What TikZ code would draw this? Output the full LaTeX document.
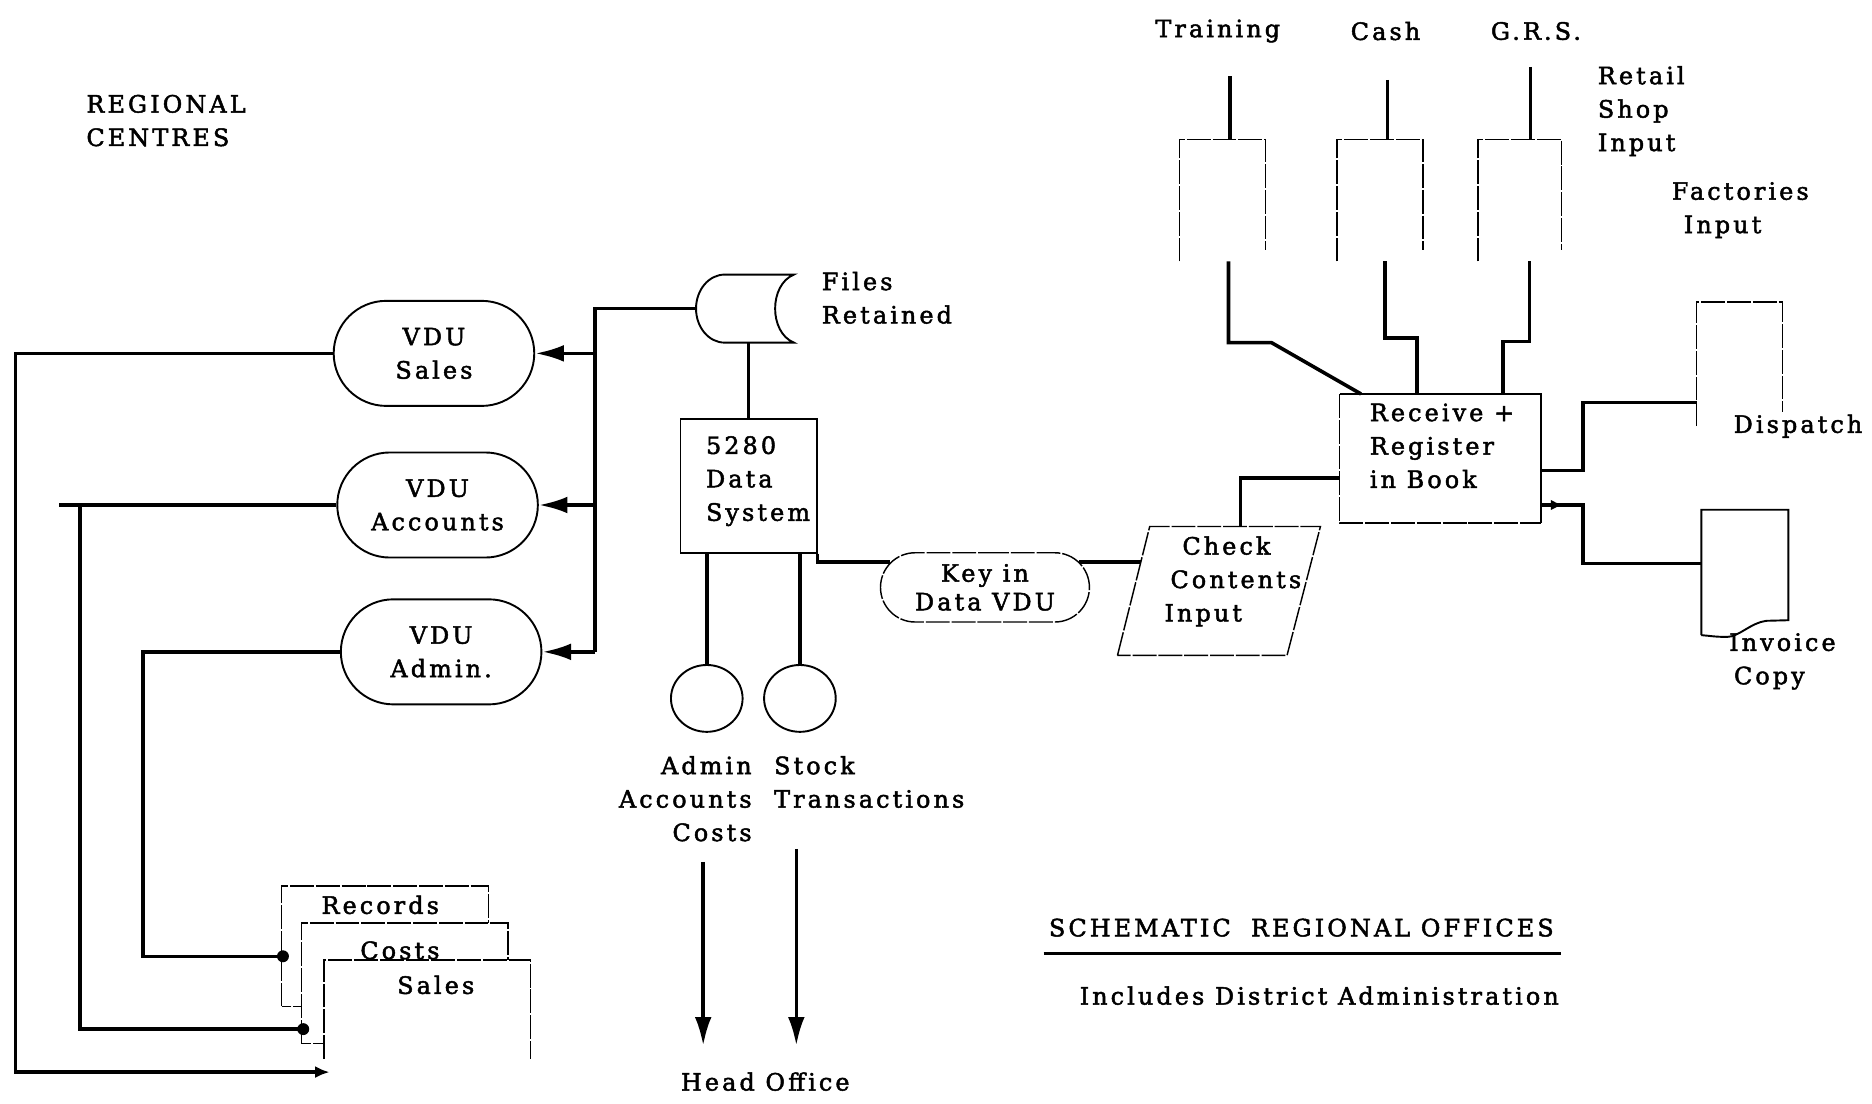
\documentclass[tikz,border=0pt]{standalone}
\usepackage{fontspec}
\setmainfont{DejaVu Serif}[LetterSpace=13,FakeBold=2]
\usetikzlibrary{arrows.meta,calc,shapes.misc,shapes.geometric,decorations.markings}

\begin{document}
\begin{tikzpicture}[x=0.5pt,y=-0.5pt,
  font=\fontsize{10}{14}\selectfont,
  conn/.style={line width=1.5pt},
  outline/.style={line width=0.8pt},
  faint/.style={line width=0.6pt, dash pattern=on 10pt off 0.8pt},
  txt/.style={inner sep=0pt, align=left},
  ghost/.style={inner sep=0pt, outer sep=0pt},
  vdu/.style={rounded rectangle, draw, outline, minimum width=84pt,
              minimum height=44pt, inner sep=0pt, align=center},
  arr/.style={-{Latex[length=12pt,width=7pt]}},
  dot/.style={fill=black},
]
\useasboundingbox (0,0) rectangle (1568,924);

% ---------- regional centres ----------
\node[txt, anchor=west] (rc) at (72,101) {REGIONAL\\CENTRES};

\node[vdu] (vs) at (363.5,296) {VDU\\Sales};
\node[vdu] (va) at (366.5,423) {VDU\\Accounts};
\node[vdu] (vd) at (369.5,546) {VDU\\Admin.};

% record cards, back to front
\node[ghost, minimum width=86.5pt, minimum height=50.5pt] (cRec) at (322.5,792.5) {};
\node[ghost, minimum width=86.5pt, minimum height=50.5pt] (cCost) at (339,823.5) {};
\node[ghost, minimum width=86.5pt, minimum height=41.5pt] (cSal) at (358,845.5) {};
\draw[faint, fill=white] (cRec.south west) rectangle (cRec.north east);
\node[txt] (tRec) at (318.5,758) {Records};
\draw[faint, fill=white] (cCost.south west) rectangle (cCost.north east);
\node[txt] (tCost) at (335,796) {Costs};
\fill[white] (cSal.south west) rectangle (cSal.north east);
\draw[faint] (cSal.south west) -- (cSal.north west) -- (cSal.north east) -- (cSal.south east);
\node[txt] (tSal) at (365,825) {Sales};

% return lines from the VDUs to the cards
\coordinate (xS) at (13,0);
\coordinate (xA0) at (49,0);
\coordinate (xA) at (67,0);
\coordinate (xD) at (120,0);
\coordinate (eS) at (276,898);
\coordinate (eA) at ($(cCost.south west)+(1.5,-12)$);
\coordinate (eD) at ($(cRec.south west)+(1,-42)$);

\draw[conn, -{Latex[length=6pt,width=5pt]}] (vs.west) -| (xS |- eS) -- (eS);
\draw[conn] (va.west) -- (va.west -| xA0);
\draw[conn] (va.west -| xA) |- (eA);
\draw[conn] (vd.west) -| (xD |- eD) -- (eD);
\fill[dot] (eA) circle (2.5pt);
\fill[dot] (eD) circle (2.5pt);

% ---------- central processing ----------
\node[ghost, minimum width=41pt, minimum height=28.5pt] (files) at (624,258.5) {};
\begin{scope}[shift={(files.center)}]
  \draw[outline] (-17,-28.5) -- (41,-28.5) .. controls (20,-20) and (20,20) .. (41,28.5)
    -- (-17,28.5) arc[start angle=90, end angle=270, x radius=24, y radius=28.5];
\end{scope}
\node[txt, anchor=west] (tFiles) at (688,249.5) {Files\\Retained};

\coordinate (bx) at (498.5,0);
\draw[conn] (files.west) -| (vd.east -| bx);
\foreach \v in {vs,va,vd} \draw[conn,arr] (\v.east -| bx) -- (\v.east);

\node[draw, outline, minimum width=57pt, minimum height=56pt, inner sep=0pt] (dsys) at (627,407) {};
\node[txt, anchor=west] (tDsys) at (591,403) {5280\\Data\\System};
\draw[conn] (dsys.north) -- (dsys.north |- files.south);

\node[ellipse, draw, outline, minimum width=30pt, minimum height=28pt, inner sep=0pt] (cAdm) at (592,585) {};
\node[ellipse, draw, outline, minimum width=30pt, minimum height=28pt, inner sep=0pt] (cStk) at (670,585) {};
\draw[conn] (cAdm.north) -- (cAdm.north |- dsys.south);
\draw[conn] (cStk.north) -- (cStk.north |- dsys.south);
\node[txt, anchor=east, align=right] (tAdm) at (630,669) {Admin\\Accounts\\Costs};
\node[txt, anchor=west] (tStk) at (648,655) {Stock\\Transactions};

\node[txt] (ho) at (641,906) {Head Office};
\coordinate (h1) at (589,722);
\coordinate (h2) at (667,711);
\draw[conn,arr] (h1) -- ($(h1 |- ho.north)+(0,-22)$);
\draw[conn,arr] (h2) -- ($(h2 |- ho.north)+(0,-22)$);

% ---------- data entry ----------
\node[rounded rectangle, draw, faint, minimum width=87.5pt, minimum height=29pt,
      inner sep=0pt, align=center, font=\fontsize{10}{12}\selectfont] (kvdu) at (825,492) {Key in\\Data VDU};
\draw[conn] (dsys.south east) |- (kvdu.165);

\node[ghost, minimum width=85pt, minimum height=54pt] (chk) at (1021,495) {};
\begin{scope}[shift={(chk.center)}]
  \draw[faint] (-85,54) -- (-58,-54) -- (85,-54) -- (57,54) -- cycle;
  \coordinate (chkL) at (-65.5,-24);
  \coordinate (chkTop) at (18,-54);
\end{scope}
\node[txt, anchor=west] (tChk) at (975,487) {\hspace*{7.5pt}Check\\\hspace*{2.5pt}Contents\\Input};
\draw[conn] (kvdu.15) -- (kvdu.15 -| chkL);

\node[ghost, minimum width=84.5pt, minimum height=54pt] (rcv) at (1206.5,384) {};
\draw[outline] (rcv.south east) -- (rcv.north east) -- (rcv.north west);
\draw[faint] (rcv.north west) -- (rcv.south west) -- (rcv.south east);
\node[txt, anchor=west] (tRcv) at (1147,373.5) {Receive +\\Register\\in Book};
\draw[conn] (chkTop) |- (rcv.191);

% ---------- retail shop inputs ----------
\node[txt] (lTr) at (1020,26) {Training};
\node[txt] (lCa) at (1160.5,26) {Cash};
\node[txt] (lGr) at (1286.5,26) {G.R.S.};

\node[ghost, minimum width=36pt, minimum height=51pt] (dTr) at (1024,168) {};
\node[ghost, minimum width=36pt, minimum height=51pt] (dCa) at (1156,168) {};
\node[ghost, minimum width=35pt, minimum height=51pt] (dGr) at (1273,168) {};
\foreach \d in {dTr,dCa,dGr}
  \draw[faint] (\d.south west) -- (\d.north west) -- (\d.north east) -- ($(\d.south east)+(0,-10)$);

\coordinate (tTr) at (1030,64);
\coordinate (tCa) at (1162,67);
\coordinate (tGr) at (1282,56);
\draw[conn] (tTr) -- (tTr |- dTr.north);
\draw[conn] (tCa) -- (tCa |- dCa.north);
\draw[conn] (tGr) -- (tGr |- dGr.north);

\coordinate (bTr) at (1029,287);
\coordinate (bCa) at (1160,283);
\coordinate (bGr) at (1281,286);
\draw[conn] (bTr |- dTr.south) -- (bTr) -- ++(36,0) -- ($(rcv.north west)+(18,0)$);
\draw[conn] (bCa |- dCa.south) -- (bCa) -| ($(rcv.north west)+(65,0)$);
\draw[conn] (bGr |- dGr.south) -- (bGr) -| ($(rcv.north west)+(137,0)$);

\node[txt, anchor=west] (lRet) at (1338,93) {Retail\\Shop\\Input};
\node[txt, anchor=west] (lFac) at (1400,176) {Factories\\\hspace*{5pt}Input};

% ---------- outputs ----------
\node[ghost, minimum width=36pt, minimum height=52pt] (dDs) at (1457,305) {};
\draw[faint] (dDs.south west) -- (dDs.north west) -- (dDs.north east) -- ($(dDs.south east)+(0,-12)$);
\node[txt] (lDs) at (1506,357) {Dispatch};

\node[ghost, minimum width=36.5pt, minimum height=52.5pt] (dIn) at (1461.5,479.5) {};
\begin{scope}[shift={(dIn.center)}]
  \draw[outline] (-36.5,52.5) -- (-36.5,-52.5) -- (36.5,-52.5) -- (36.5,40) -- (18,40.5)
    .. controls (5,42) and (-5,54) .. (-15,54) .. controls (-25,54) and (-30,53) .. (-36.5,52.5);
\end{scope}
\node[txt, anchor=west] (lIn) at (1448,554) {Invoice\\\hspace*{2pt}Copy};

\coordinate (jD) at (1326,337);
\coordinate (jI) at (1326,472);
\draw[conn] ($(rcv.east)+(0,10)$) -| (jD) -- (jD -| dDs.west);
\draw[conn, postaction={decorate, decoration={markings,
      mark=at position 9pt with {\arrow{Latex[length=5pt,width=4.5pt]}}}}]
  ($(rcv.east)+(0,39)$) -| (jI) -- (jI -| dIn.west);

% ---------- caption ----------
\node[txt] (ttl) at (1090,777) {SCHEMATIC\hspace{4pt} REGIONAL OFFICES};
\draw[line width=1.2pt] ($(ttl.south west)+(-4,14)$) -- ($(ttl.south east)+(6,14)$);
\node[txt] (incl) at (1105,834) {Includes District Administration};
\end{tikzpicture}
\end{document}
